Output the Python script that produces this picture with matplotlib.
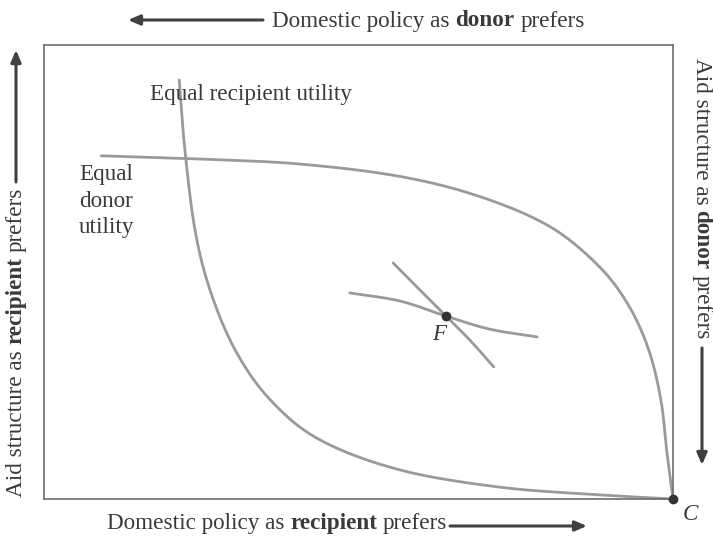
import numpy as np
import matplotlib
matplotlib.use("Agg")
import matplotlib.pyplot as plt

W, H = 713, 539
# ---- data (in a 0..100 x 0..100 diagram space) ----
donor_x = [9.1, 24.6, 40.5, 56.4, 69.1, 80.3, 88.2, 93.0, 96.2, 98.1, 99.0, 100.0]
donor_y = [75.6, 74.9, 73.8, 71.1, 66.7, 60.1, 51.3, 42.5, 32.6, 21.6, 10.6, 0.0]
recip_x = [21.5, 22.4, 24.0, 26.4, 30.4, 36.0, 43.9, 56.6, 72.5, 88.4, 100.0]
recip_y = [92.3, 76.9, 59.3, 46.0, 32.8, 21.8, 13.0, 6.4, 2.6, 0.9, 0.0]
f1_x = [48.6, 56.6, 63.9, 70.9, 78.4]
f1_y = [45.4, 43.6, 40.3, 37.4, 35.7]
f2_x = [55.5, 59.8, 63.9, 67.7, 71.5]
f2_y = [52.0, 46.0, 40.3, 35.0, 29.1]
pt_F = (63.9, 40.3)
pt_C = (100.0, 0.0)

BOX = (44, 45, 673, 499)  # left, top, right, bottom in pixels
CURVE = "#9a9a9a"
TXT = "#3a3a3a"
FONT = "Liberation Serif"

def catmull(xs, ys, n=20):
    P = np.column_stack([xs, ys]).astype(float)
    P = np.vstack([P[0] - (P[1] - P[0]), P, P[-1] + (P[-1] - P[-2])])
    out = []
    for i in range(1, len(P) - 2):
        p0, p1, p2, p3 = P[i-1], P[i], P[i+1], P[i+2]
        t = np.linspace(0, 1, n, endpoint=False)[:, None]
        seg = 0.5 * ((2*p1) + (-p0 + p2)*t + (2*p0 - 5*p1 + 4*p2 - p3)*t**2 + (-p0 + 3*p1 - 3*p2 + p3)*t**3)
        out.append(seg)
    out.append(P[-2][None, :])
    o = np.vstack(out)
    return o[:, 0], o[:, 1]

fig = plt.figure(figsize=(W/100, H/100), dpi=100)
l, t, r, b = BOX
ax = fig.add_axes([l/W, 1 - b/H, (r-l)/W, (b-t)/H])
ax.set_xlim(0, 100)
ax.set_ylim(0, 100)
ax.set_xticks([]); ax.set_yticks([])
for s in ax.spines.values():
    s.set_color("#6e6e6e"); s.set_linewidth(1.2)

for xs, ys in [(donor_x, donor_y), (recip_x, recip_y), (f1_x, f1_y), (f2_x, f2_y)]:
    cx, cy = catmull(xs, ys)
    ax.plot(cx, cy, color=CURVE, lw=2, solid_capstyle="round", clip_on=False)
ax.plot(*pt_F, "o", color="#333333", ms=6, zorder=5)
ax.plot(*pt_C, "o", color="#333333", ms=6, zorder=5, clip_on=False)

def fx(x): return x / W
def fy(y): return 1 - y / H

FS = 16.7
ax.text(16.9, 89.0, "Equal recipient utility", fontsize=FS,
        family=FONT, color=TXT, va="center", ha="left")
ax.text(5.6, 73.7, "Equal\ndonor\nutility", fontsize=FS, family=FONT, color=TXT,
        va="top", ha="left", linespacing=1.34)
ax.text(62.8, 36.2, "F", fontsize=FS, family=FONT, style="italic", color=TXT, va="center", ha="center")
fig.text(fx(690), fy(514), "C", fontsize=FS, family=FONT, style="italic", color=TXT, va="center", ha="center")

fig.canvas.draw()
ren = fig.canvas.get_renderer()

def mixed(x, y, parts, rot=0):
    # x, y in reference pixels (top-left origin); start of text
    pos = 0.0
    sp = fig.text(0, 0, "a a", fontsize=FS, family=FONT)
    sp2 = fig.text(0, 0, "aa", fontsize=FS, family=FONT)
    space = sp.get_window_extent(ren).width - sp2.get_window_extent(ren).width
    sp.remove(); sp2.remove()
    for i, (s, bold) in enumerate(parts):
        if rot == 0:
            px, py = x + pos, y
        elif rot == 90:
            px, py = x, y - pos
        else:
            px, py = x, y + pos
        tx = fig.text(fx(px), fy(py), s, fontsize=FS, family=FONT, color=TXT,
                      weight="bold" if bold else "normal", rotation=rot,
                      rotation_mode="anchor", ha="left", va="center")
        bb = tx.get_window_extent(ren)
        pos += (bb.width if rot == 0 else bb.height) + space
    return pos

mixed(272, 21, [("Domestic policy as", False), ("donor", True), ("prefers", False)])
mixed(107, 523, [("Domestic policy as", False), ("recipient", True), ("prefers", False)])
mixed(16, 497, [("Aid structure as", False), ("recipient", True), ("prefers", False)], rot=90)
mixed(702, 58, [("Aid structure as", False), ("donor", True), ("prefers", False)], rot=270)

def arrow(x0, y0, x1, y1):
    fig.add_artist(matplotlib.patches.FancyArrowPatch(
        (fx(x0), fy(y0)), (fx(x1), fy(y1)), transform=fig.transFigure,
        arrowstyle="-|>,head_length=7,head_width=3", color="#404040", lw=2.2,
        shrinkA=0, shrinkB=0))

arrow(263, 20, 128, 20)
arrow(450, 526, 587, 526)
arrow(16, 182, 16, 50)
arrow(702, 348, 702, 465)

fig.savefig("out.png", dpi=100)
